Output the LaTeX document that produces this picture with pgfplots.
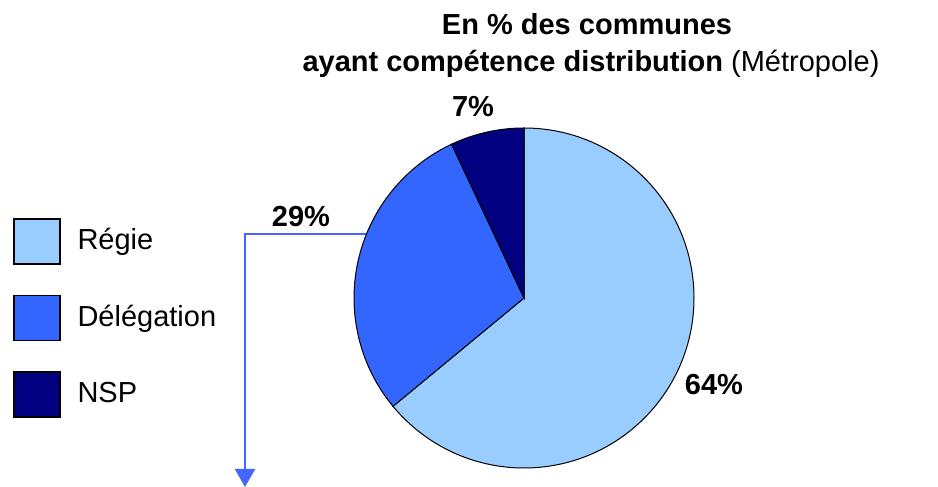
\documentclass[border=0pt]{standalone}
\usepackage{pgfplots}
\pgfplotsset{compat=1.18}
\usepackage{pgfplotstable}
\usepackage{fontspec}
\setmainfont{Liberation Sans}
\usetikzlibrary{arrows.meta}

\definecolor{regie}{HTML}{99CCFF}
\definecolor{delegation}{HTML}{3366FF}
\definecolor{nsp}{HTML}{000080}
\definecolor{arrowblue}{HTML}{4466FF}

% share of each part, in %
\pgfplotstableread{
part value
Regie 64
Delegation 29
NSP 7
}\parts

\pgfplotstablegetelem{0}{value}\of\parts \let\vA\pgfplotsretval
\pgfplotstablegetelem{1}{value}\of\parts \let\vB\pgfplotsretval
\pgfplotstablegetelem{2}{value}\of\parts \let\vC\pgfplotsretval
% slices go clockwise from 12 o'clock
\pgfmathsetmacro\aA{90-3.6*\vA}
\pgfmathsetmacro\aB{\aA-3.6*\vB}
\pgfmathsetmacro\aC{\aB-3.6*\vC}

\newcommand\bigfont{\fontsize{14.5}{17}\selectfont}

\begin{document}
\begin{tikzpicture}
\begin{axis}[
    scale only axis, width=469pt, height=243.5pt,
    xmin=0, xmax=938, ymin=0, ymax=487,
    hide axis, clip=false,
    legend style={at={(axis cs:13,269)}, anchor=north west,
        draw=none, fill=none, inner sep=0pt, row sep=15pt,
        font=\bigfont,
        nodes={inner sep=0pt}},
    legend cell align=left,
    legend image code/.code={
        \draw[#1, line width=0.75pt] (0pt,-11.75pt) rectangle (23pt,10.75pt);
        \path (31.5pt,0pt);},
]
\addlegendimage{fill=regie, draw=black}
\addlegendentry{Régie}
\addlegendimage{fill=delegation, draw=black}
\addlegendentry{Délégation}
\addlegendimage{fill=nsp, draw=black}
\addlegendentry{NSP}

% whole picture area
\coordinate (SW) at (axis cs:0,0);
\coordinate (NE) at (axis cs:938,487);

% leader arrow from the Délégation slice
\draw[arrowblue, line width=1pt, -{Triangle[width=10pt, length=9pt]}]
    (axis cs:380,253) -- (axis cs:245,253) -- (axis cs:245,0);

\filldraw[fill=regie, draw=black, line width=0.5pt]
    (axis cs:524,189) -- ++(90:85pt) arc[start angle=90, end angle=\aA, radius=85pt] -- cycle;
\filldraw[fill=delegation, draw=black, line width=0.5pt]
    (axis cs:524,189) -- ++(\aA:85pt) arc[start angle=\aA, end angle=\aB, radius=85pt] -- cycle;
\filldraw[fill=nsp, draw=black, line width=0.5pt]
    (axis cs:524,189) -- ++(\aB:85pt) arc[start angle=\aB, end angle=\aC, radius=85pt] -- cycle;

\node[anchor=base, font=\bigfont\bfseries] at (axis cs:587,452) {En \% des communes};
\node[anchor=base, font=\bigfont] at (axis cs:591,415) {\textbf{ayant compétence distribution} (Métropole)};

\node[font=\bigfont\bfseries] at (axis cs:473,380) {\vC\%};
\node[font=\bigfont\bfseries] at (axis cs:301,270) {\vB\%};
\node[font=\bigfont\bfseries] at (axis cs:714,102) {\vA\%};
\end{axis}
\pgfresetboundingbox
\path (SW) rectangle (NE);
\end{tikzpicture}
\end{document}
